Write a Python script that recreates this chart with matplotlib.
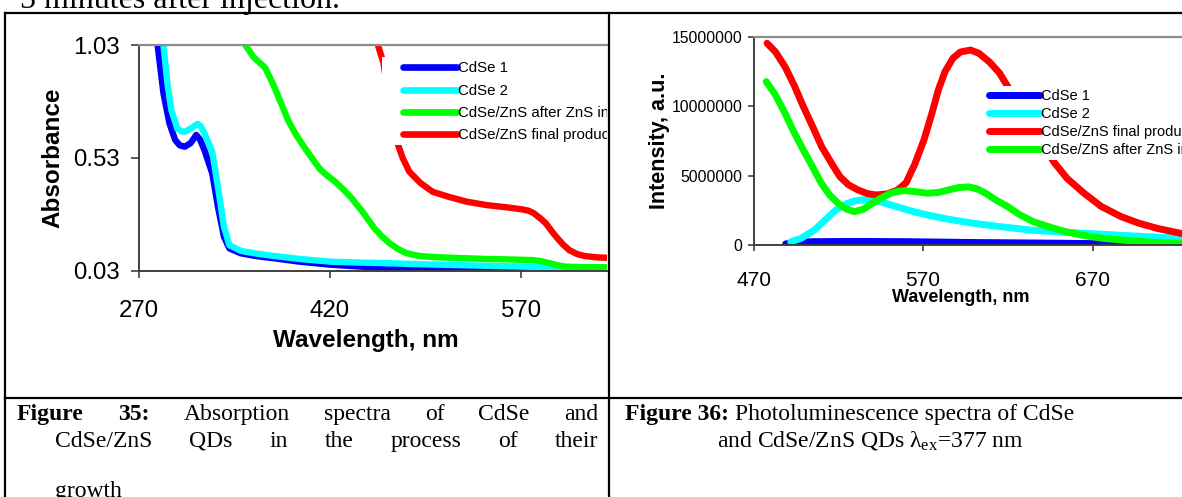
import matplotlib
matplotlib.use("Agg")
import matplotlib.pyplot as plt
from matplotlib.lines import Line2D
from matplotlib.patches import Rectangle

W, H = 1182, 497

# --- absorption spectra (Figure 35) ---
abs_wl_cdse1 = [280, 284.6, 289.2, 293.9, 298.4, 302, 306, 310.5, 315, 318, 321.4, 327.5, 332, 336.7,
                341, 350, 362, 375, 395, 420, 445, 470, 495, 520, 560, 600, 640]
abs_cdse1 = [1.30, 1.03, 0.816, 0.683, 0.609, 0.585, 0.579, 0.595, 0.631, 0.61, 0.564, 0.461, 0.313, 0.18,
             0.128, 0.106, 0.094, 0.085, 0.07, 0.056, 0.047, 0.04, 0.036, 0.034, 0.03, 0.027, 0.025]

abs_wl_cdse2 = [285, 289.2, 292.3, 295.4, 300, 303, 306, 310.7, 316, 318.5, 321.4, 327.5, 332, 336.7,
                341, 350, 362, 375, 398, 421, 445, 467, 490, 513, 535, 558, 589, 615, 640]
abs_cdse2 = [1.30, 1.03, 0.86, 0.742, 0.66, 0.648, 0.645, 0.66, 0.68, 0.67, 0.638, 0.557, 0.40, 0.224,
             0.142, 0.117, 0.105, 0.095, 0.08, 0.069, 0.065, 0.062, 0.058, 0.055, 0.052, 0.049, 0.045, 0.042, 0.04]

abs_wl_zns = [348, 353.5, 359.7, 364, 369, 375, 381, 387, 393, 399.5, 406, 412, 418, 424, 430, 436, 441,
              445.6, 450, 455, 461, 467, 473, 479, 485, 491, 500, 513, 528, 543, 560, 580, 586, 592.6,
              598, 605, 620, 640]
abs_zns = [1.12, 1.03, 0.978, 0.955, 0.93, 0.86, 0.78, 0.697, 0.635, 0.579, 0.527, 0.48, 0.45, 0.424,
           0.392, 0.357, 0.322, 0.29, 0.255, 0.216, 0.18, 0.15, 0.127, 0.109, 0.1, 0.094, 0.09, 0.087,
           0.084, 0.081, 0.079, 0.076, 0.071, 0.062, 0.054, 0.047, 0.045, 0.044]

abs_wl_final = [455, 457.6, 462, 467, 473, 477, 482.3, 491, 500.6, 513, 527.5, 543, 559, 571, 576, 580,
                585, 589.5, 594, 598.6, 603, 608, 614, 620, 630, 640]
abs_final = [1.15, 1.03, 0.95, 0.76, 0.594, 0.53, 0.468, 0.418, 0.379, 0.357, 0.335, 0.32, 0.31, 0.301,
             0.295, 0.284, 0.262, 0.239, 0.205, 0.173, 0.145, 0.12, 0.103, 0.094, 0.088, 0.086]

abs_labels = ["CdSe 1", "CdSe 2", "CdSe/ZnS after ZnS injection", "CdSe/ZnS final product"]
abs_yticks = [0.03, 0.53, 1.03]
abs_xticks = [270, 420, 570]

# --- photoluminescence spectra (Figure 36) ---
pl_wl_cdse1 = [489, 495, 505, 530, 560, 600, 650, 700, 730]
pl_cdse1 = [0.1e6, 0.2e6, 0.26e6, 0.28e6, 0.26e6, 0.2e6, 0.15e6, 0.08e6, 0.04e6]

pl_wl_cdse2 = [492, 498, 506, 512, 518.6, 525, 530, 534, 539, 544.6, 551, 557.6, 565, 572.6, 585, 600,
               615, 633, 650, 665, 690, 722, 730]
pl_cdse2 = [0.26e6, 0.5e6, 1.1e6, 1.8e6, 2.54e6, 3.0e6, 3.2e6, 3.26e6, 3.24e6, 3.14e6, 2.9e6, 2.66e6,
            2.4e6, 2.18e6, 1.87e6, 1.58e6, 1.35e6, 1.1e6, 0.97e6, 0.86e6, 0.7e6, 0.5e6, 0.46e6]

pl_wl_final = [478, 483, 488.6, 494, 499.4, 505, 510.2, 516, 521, 526, 531.6, 537, 542.5, 549, 555, 560,
               565, 570.5, 575, 579, 583, 587.6, 592, 598, 603, 609, 615, 620, 630, 640, 647.7, 655, 665,
               675, 686.8, 697, 708, 722, 730]
pl_final = [14.53e6, 13.9e6, 12.84e6, 11.5e6, 9.97e6, 8.5e6, 7.09e6, 5.9e6, 4.93e6, 4.35e6, 3.98e6,
            3.72e6, 3.62e6, 3.7e6, 3.98e6, 4.5e6, 5.8e6, 7.57e6, 9.4e6, 11.17e6, 12.5e6, 13.45e6, 13.9e6,
            14.04e6, 13.8e6, 13.2e6, 12.4e6, 11.4e6, 9.5e6, 7.3e6, 5.9e6, 4.8e6, 3.74e6, 2.8e6, 2.06e6,
            1.6e6, 1.22e6, 0.86e6, 0.7e6]

pl_wl_zns = [477.5, 483, 488.6, 494, 499.4, 505, 510, 515, 521, 525, 529.5, 535, 540, 546, 551, 555,
             559.7, 566, 572.6, 579, 585, 591, 597, 602, 607, 613, 620, 627, 635, 645, 654, 665, 676, 690,
             705, 722, 730]
pl_zns = [11.77e6, 10.8e6, 9.49e6, 8.1e6, 6.85e6, 5.6e6, 4.46e6, 3.6e6, 2.9e6, 2.6e6, 2.42e6, 2.6e6,
          3.02e6, 3.45e6, 3.74e6, 3.88e6, 3.93e6, 3.85e6, 3.74e6, 3.8e6, 3.98e6, 4.15e6, 4.2e6, 4.05e6,
          3.74e6, 3.25e6, 2.78e6, 2.2e6, 1.7e6, 1.3e6, 0.98e6, 0.7e6, 0.5e6, 0.35e6, 0.22e6, 0.14e6, 0.1e6]

pl_labels = ["CdSe 1", "CdSe 2", "CdSe/ZnS final product", "CdSe/ZnS after ZnS injection"]
pl_yticks = [0, 5000000, 10000000, 15000000]
pl_xticks = [470, 570, 670]

BLUE, CYAN, GREEN, RED = "#0000ff", "#00ffff", "#00ff00", "#ff0000"
AXIS = "#404040"
SANS = "Liberation Sans"
SERIF = "Liberation Serif"

plt.rcParams["font.family"] = SANS
plt.rcParams["mathtext.fontset"] = "custom"
plt.rcParams["mathtext.rm"] = SERIF
plt.rcParams["mathtext.it"] = SERIF + ":italic"


def px(x, y):
    # pixel position (from top-left) -> figure fraction
    return x / W, 1 - y / H


def rect(left, top, right, bottom):
    return [left / W, 1 - bottom / H, (right - left) / W, (bottom - top) / H]


def style_axes(ax, xlen, ylen, xsize, ysize, xpad, ypad):
    ax.spines["right"].set_visible(False)
    ax.spines["top"].set_color("#8c8c8c")
    ax.spines["top"].set_linewidth(1.6)
    for s in ("left", "bottom"):
        ax.spines[s].set_color(AXIS)
        ax.spines[s].set_linewidth(1.4)
    ax.tick_params(axis="x", direction="out", length=xlen, width=1.2, color=AXIS,
                   labelsize=xsize, pad=xpad)
    ax.tick_params(axis="y", direction="out", length=ylen, width=1.2, color=AXIS,
                   labelsize=ysize, pad=ypad)


fig = plt.figure(figsize=(W / 100, H / 100), dpi=100)

# ---------- left chart ----------
ax1 = fig.add_axes(rect(139, 45, 607, 270.5))
lw1 = 4.6
ax1.plot(abs_wl_cdse1, abs_cdse1, color=BLUE, lw=lw1, solid_capstyle="round", label=abs_labels[0])
ax1.plot(abs_wl_cdse2, abs_cdse2, color=CYAN, lw=lw1, solid_capstyle="round", label=abs_labels[1])
ax1.plot(abs_wl_zns, abs_zns, color=GREEN, lw=lw1, solid_capstyle="round", label=abs_labels[2])
ax1.plot(abs_wl_final, abs_final, color=RED, lw=lw1, solid_capstyle="round", label=abs_labels[3])
ax1.set_xlim(270, 637.5)
ax1.set_ylim(0.03, 1.03)
ax1.set_xticks(abs_xticks)
ax1.set_yticks(abs_yticks)
ax1.set_yticklabels([f"{v:.2f}" for v in abs_yticks])
style_axes(ax1, 5, 6, 17.3, 17.3, 16.5, 8)
ax1.set_xlabel("Wavelength, nm", fontsize=17.5, weight="bold", va="center")
ax1.xaxis.set_label_coords(0.485, -0.312)
ax1.set_ylabel("Absorbance", fontsize=17.5, weight="bold", va="center")
ax1.yaxis.set_label_coords(-0.185, 0.5)

# white legend box (Excel style: wider left margin than the legend entries)
box = Rectangle(px(382, 145), (607 - 382) / W, (145 - 57) / H, transform=fig.transFigure,
                facecolor="white", edgecolor="none", zorder=4.5)
ax1.add_patch(box)
leg1 = ax1.legend(loc="upper left", bbox_to_anchor=px(403, 61.5), bbox_transform=fig.transFigure,
                  borderaxespad=0, borderpad=0, fontsize=10.8, handlelength=3.6,
                  handletextpad=0.05, labelspacing=0.55, frameon=False)
for ln in leg1.get_lines():
    ln.set_linewidth(4.8)
for t in leg1.get_texts():
    t.set_clip_box(ax1.bbox)
    t.set_clip_on(True)

# ---------- right chart ----------
ax2 = fig.add_axes(rect(753.5, 36.7, 1182, 245.3))
lw2 = 5.0
ax2.plot(pl_wl_cdse1, pl_cdse1, color=BLUE, lw=lw2, solid_capstyle="round", label=pl_labels[0])
ax2.plot(pl_wl_cdse2, pl_cdse2, color=CYAN, lw=lw2, solid_capstyle="round", label=pl_labels[1])
ax2.plot(pl_wl_final, pl_final, color=RED, lw=lw2, solid_capstyle="round", label=pl_labels[2])
ax2.plot(pl_wl_zns, pl_zns, color=GREEN, lw=lw2, solid_capstyle="round", label=pl_labels[3])
ax2.set_xlim(470, 722.7)
ax2.set_ylim(0, 15000000)
ax2.set_xticks(pl_xticks)
ax2.set_yticks(pl_yticks)
ax2.set_yticklabels([str(v) for v in pl_yticks])
style_axes(ax2, 4.5, 4, 15, 11.3, 14, 4)
ax2.set_xlabel("Wavelength, nm", fontsize=13, weight="bold", va="center")
ax2.xaxis.set_label_coords(0.484, -0.25)
ax2.set_ylabel("Intensity, a.u.", fontsize=15.5, weight="bold", va="center")
ax2.yaxis.set_label_coords(-0.2205, 0.5)

leg2 = ax2.legend(loc="upper left", bbox_to_anchor=px(986, 86), bbox_transform=fig.transFigure,
                  borderaxespad=0, borderpad=0.2, fontsize=10.5, handlelength=3.5,
                  handletextpad=0.05, labelspacing=0.28, frameon=True, fancybox=False,
                  framealpha=1, facecolor="white", edgecolor="none")
for ln in leg2.get_lines():
    ln.set_linewidth(5.0)

# ---------- page: table borders ----------
for (x0, y0, x1, y1) in [(5, 13, W, 13), (5, 13, 5, H), (608.5, 13, 608.5, H), (5, 398, W, 398)]:
    a, b = px(x0, y0)
    c, d = px(x1, y1)
    fig.add_artist(Line2D([a, c], [b, d], color="black", lw=1.6, transform=fig.transFigure))

# ---------- page text ----------
fig.text(*px(20, 8), "5 minutes after injection.", family=SERIF, fontsize=23, va="baseline")

renderer = fig.canvas.get_renderer()
CAP = 17


def put_words(words, x_left, y_base, x_right=None):
    arts = [fig.text(0, 0, w, family=SERIF, fontsize=CAP, weight=wt, va="baseline", ha="left")
            for w, wt in words]
    widths = [t.get_window_extent(renderer).width for t in arts]
    if x_right is None:
        gap = CAP * 100 / 72 * 0.25
    else:
        gap = (x_right - x_left - sum(widths)) / (len(arts) - 1)
    x = x_left
    for t, wd in zip(arts, widths):
        t.set_position(px(x, y_base))
        x += wd + gap


B, N = "bold", "normal"
put_words([("Figure", B), ("35:", B), ("Absorption", N), ("spectra", N), ("of", N), ("CdSe", N),
           ("and", N)], 17, 420, 598)
put_words([(w, N) for w in "CdSe/ZnS QDs in the process of their".split()], 55, 447, 598)
put_words([("growth", N)], 55, 497)
put_words([("Figure 36:", B), ("Photoluminescence spectra of CdSe", N)], 625, 420)
put_words([("and CdSe/ZnS QDs λ$_{\\mathrm{ex}}$=377 nm", N)], 717, 447)

fig.savefig("out.png", dpi=100)
